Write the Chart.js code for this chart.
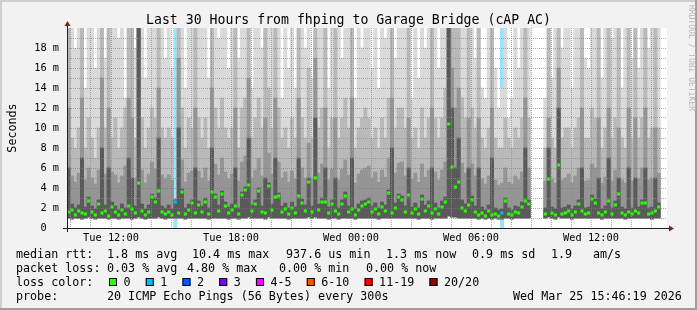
<!DOCTYPE html>
<html>
<head>
<meta charset="utf-8">
<script src="https://cdn.jsdelivr.net/npm/chart.js@4.4.1/dist/chart.umd.min.js"></script>
<style>
  html, body { margin: 0; padding: 0; background: #f2f2f2; }
  canvas { display: block; }
</style>
</head>
<body>
<canvas id="grafico" width="697" height="310" style="width:697px;height:310px"></canvas>
<script>
'use strict';

/* ---- time axis: hours counted from Tue 00:00, one sample every 10 minutes ---- */
const startHour = 9.8;
const endHour = 39.8;
const stepHour = 1 / 6;

/* ---- smoke + median, milliseconds (null = no data) ---- */
const medianMs = [
  1.6,1.8,1.3,1.7,1.5,1.4,2.7,1.6,1.3,2.4,
  1.5,1.7,1.2,2.1,1.6,1.3,1.8,1.4,2.2,1.9,
  1.5,4.5,1.7,1.3,1.6,3.1,2.6,3.7,1.6,1.4,
  1.6,1.3,2.6,1.5,3.6,1.4,1.8,2.5,1.5,2.3,
  1.6,2.6,1.4,3.6,3.1,1.7,3.4,2.2,1.5,1.8,
  2.2,1.4,3.3,3.8,4.3,1.7,2.4,3.7,1.6,1.5,
  4.2,1.8,3.1,3.2,1.6,1.9,1.4,2.0,1.5,3.2,
  2.5,1.7,4.6,1.6,5.0,1.8,2.6,2.6,1.5,2.4,
  1.7,1.4,2.4,3.2,1.6,1.9,1.3,1.8,2.2,2.4,
  2.6,1.6,1.9,1.4,2.1,1.7,3.5,1.5,2.0,3.1,
  2.8,1.6,3.3,1.5,1.9,1.4,2.9,1.7,2.2,1.5,
  1.9,1.4,2.1,2.6,10.4,6.1,4.1,4.6,2.0,1.7,
  2.3,2.8,1.6,1.3,1.5,1.2,1.7,1.3,1.4,1.2,
  1.5,2.7,1.4,1.3,1.6,1.5,2.1,2.7,2.4,null,
  null,null,null,1.4,4.9,1.5,1.3,6.3,1.4,1.5,
  1.7,1.3,1.6,2.4,1.7,1.4,1.5,2.9,2.5,1.5,
  1.3,1.6,2.7,1.4,2.3,3.4,1.5,1.3,1.6,1.4,
  1.7,1.5,2.5,2.5,1.4,1.5,1.7,2.1
];
const minMs = [
  1.0,0.9,1.0,1.0,0.9,1.0,1.1,1.0,0.9,1.0,
  1.0,1.0,0.9,1.0,1.0,0.9,1.0,1.0,1.0,0.9,
  1.0,1.1,1.0,0.9,1.0,1.0,1.0,1.1,1.0,0.9,
  1.0,1.0,1.0,1.0,1.0,0.9,1.0,1.0,1.0,1.0,
  1.0,1.0,0.9,1.0,1.0,1.0,1.0,1.0,0.9,1.0,
  1.0,0.9,1.0,1.0,1.1,1.0,1.0,1.0,1.0,0.9,
  1.1,1.0,1.0,1.0,1.0,1.0,0.9,1.0,1.0,1.0,
  1.0,1.0,1.1,1.0,1.1,1.0,1.0,1.0,0.9,1.0,
  1.0,0.9,1.0,1.0,1.0,1.0,0.9,1.0,1.0,1.0,
  1.0,1.0,1.0,0.9,1.0,1.0,1.0,1.0,1.0,1.0,
  1.0,1.0,1.0,1.0,1.0,0.9,1.0,1.0,1.0,0.9,
  1.0,1.0,1.0,1.0,1.2,1.1,1.1,1.0,1.0,1.0,
  1.0,1.0,1.0,0.9,1.0,0.9,1.0,0.9,1.0,0.9,
  0.9,1.0,1.0,0.9,1.0,1.0,1.0,1.0,1.0,null,
  null,null,null,1.0,1.1,1.0,0.9,1.1,1.0,1.0,
  1.0,0.9,1.0,1.0,1.0,1.0,1.0,1.0,1.0,1.0,
  0.9,1.0,1.0,1.0,1.0,1.0,1.0,0.9,1.0,1.0,
  1.0,1.0,1.0,1.0,1.0,0.9,1.0,1.0
];
// darkest part of the smoke
const coreMs = [
  6,2.4,2.0,2.3,7,2.1,3.1,2.2,1.9,2.8,
  8,2.3,6,2.6,2.2,1.8,2.4,2.0,7,5,
  2.2,20,2.4,1.9,2.3,3.4,3.0,9,2.2,2.0,
  2.3,1.9,2.8,10,3.9,2.0,2.4,2.8,6,2.7,
  2.2,3.0,2.0,8,3.4,2.3,3.7,2.6,2.1,2.4,
  6,2.0,3.6,4.1,9,2.3,2.8,4.0,2.2,5,
  4.5,2.4,7,3.5,2.2,2.5,2.0,2.6,2.1,7,
  2.9,2.3,5.0,2.2,11,2.4,3.0,6,2.1,2.8,
  5,2.0,2.8,3.6,2.2,7,1.9,2.4,2.7,2.8,
  3.0,2.2,2.5,2.0,2.6,2.3,3.8,8,2.5,3.4,
  3.2,2.2,6,2.1,2.5,2.0,3.3,2.3,2.7,6,
  2.5,2.0,2.7,3.1,20,12,6,9,2.8,2.4,
  6,3.2,2.2,6,2.1,1.8,2.3,7,2.0,1.8,
  1.9,3.0,2.0,1.8,2.2,2.1,2.6,8,2.8,null,
  null,null,null,2.0,8,2.1,1.9,12,2.0,2.1,
  2.3,1.9,2.2,2.8,6,2.0,2.1,3.3,2.9,5,
  1.9,2.2,7,2.0,2.7,5,2.1,1.9,6,2.0,
  5,2.1,2.8,6,2.0,2.1,5,2.5
];
const p75Ms = [
  12,5.2,4.6,5.5,13,4.8,6.0,5.0,4.4,5.8,
  15,5.4,12,5.6,5.3,4.5,5.2,6.2,13,11,
  5.0,20,5.8,4.5,5.4,6.6,5.9,14,5.3,4.9,
  5.3,4.8,2.9,17,6.8,4.6,5.5,5.7,12,5.7,
  5.0,6.0,4.7,14,6.4,5.3,7.0,5.6,4.9,5.4,
  12,4.7,6.6,7.2,15,5.0,5.8,7.0,5.2,11,
  7.5,5.4,13,6.6,5.0,5.6,4.6,5.7,4.9,13,
  6.0,5.0,8.5,5.0,17,5.5,6.4,12,4.8,5.9,
  11,4.8,5.9,6.8,5.3,13,4.5,5.4,5.8,6.0,
  6.2,5.0,5.6,4.6,5.8,5.1,7.0,13,5.5,6.5,
  6.6,5.2,11,4.9,5.5,4.6,6.4,5.1,5.8,12,
  5.6,4.8,5.8,6.6,20,16,12,14,6.5,5.5,
  11,6.4,5.2,11,4.9,4.4,5.2,12,4.8,4.3,
  4.5,6.0,4.6,4.4,5.2,4.8,5.6,13,6.0,null,
  null,null,null,4.7,11,4.9,4.5,16,4.8,5.0,
  5.4,4.5,5.2,6.0,12,4.7,4.8,6.4,6.0,11,
  4.5,5.1,12,4.7,5.8,10,4.8,4.5,12,4.7,
  11,4.9,6.0,12,4.8,5.0,10,5.5
];
const p90Ms = [
  25,9,8,10,25,8,11,9,7,10,
  25,10,25,9,11,8,10,12,25,25,
  9,25,11,8,10,12,11,25,10,9,
  10,9,3.0,25,12,8,11,10,25,11,
  9,11,8,25,12,10,13,10,9,10,
  25,8,12,13,25,9,11,13,10,25,
  14,10,25,12,9,10,8,11,9,25,
  11,9,16,9,25,10,12,25,8,11,
  25,9,11,13,10,25,8,10,11,12,
  11,9,10,8,11,9,13,25,10,12,
  12,10,25,9,10,8,12,9,11,25,
  11,9,11,14,25,25,25,25,13,11,
  25,12,10,25,9,8,10,25,9,8,
  8,11,9,8,10,9,11,25,11,null,
  null,null,null,8,25,9,8,25,9,10,
  10,8,10,11,25,9,9,12,11,25,
  8,10,25,9,11,25,9,8,25,9,
  25,9,11,25,9,10,25,10
];
const maxMs = [
  25,25,18,25,25,14,25,25,16,25,
  25,17,25,25,25,19,25,13,25,25,
  18,25,25,15,25,25,21,25,25,17,
  25,16,3.2,25,25,14,25,20,25,25,
  25,25,15,25,25,19,25,25,16,25,
  25,17,25,25,25,14,25,25,18,25,
  25,21,25,25,13,25,16,25,14,25,
  25,18,25,15,25,25,25,25,14,25,
  25,25,17,25,25,25,13,25,18,25,
  25,16,25,14,25,19,25,25,17,25,
  25,25,25,13,25,15,25,18,25,25,
  25,16,25,25,25,25,25,25,25,20,
  25,25,17,25,14,13,25,25,16,12,
  14,25,11,13,25,16,25,25,20,null,
  null,null,null,13,25,15,25,25,18,25,
  25,14,25,25,25,17,16,25,25,25,
  15,25,25,19,25,25,14,25,25,17,
  25,16,25,25,18,25,25,20
];

/* ---- packet loss (sample index, pings lost of 20) ---- */
const lossStep = [32, 130];
const lossCount = [1, 1];
const lossLabels = ['0', '1', '2', '3', '4-5', '6-10', '11-19', '20/20'];
const lossColors = ['#26ff00', '#00b8ff', '#0059ff', '#7e00ff', '#ff00ff', '#ff5500', '#ff0000', '#a10000'];

/* ---- axis labels ---- */
const xLabelHours = [12, 18, 24, 30, 36];
const xLabels = ['Tue 12:00', 'Tue 18:00', 'Wed 00:00', 'Wed 06:00', 'Wed 12:00'];
const yLabelValues = [0, 2, 4, 6, 8, 10, 12, 14, 16, 18];
const yLabels = ['0  ', '2 m', '4 m', '6 m', '8 m', '10 m', '12 m', '14 m', '16 m', '18 m'];

/* ---- legend text ---- */
const titleText = 'Last 30 Hours from fhping to Garage Bridge (cAP AC)';
const rttTexts = ['median rtt:', '1.8 ms avg', '10.4 ms max', '937.6 us min', '1.3 ms now', '0.9 ms sd', '1.9', 'am/s'];
const lossTexts = ['packet loss:', '0.03 % avg', '4.80 % max', '0.00 % min', '0.00 % now'];
const probeTexts = ['probe:', '20 ICMP Echo Pings (56 Bytes) every 300s', 'Wed Mar 25 15:46:19 2026'];

// layout of the legend pieces (pixels)
const rttCols = [16, 107, 192, 286, 386, 472, 551, 593];
const lossCols = [16, 107, 187, 279, 366];
const probeCols = [16, 107, 513];

const FONT = '"DejaVu Sans Mono", monospace';
const GRID = 'rgba(143,143,143,0.75)';
const MGRID = 'rgba(222,79,74,0.6)';

function lossBucket(n) {
  if (n === 0) return 0;
  if (n <= 3) return n;
  if (n <= 5) return 4;
  if (n <= 10) return 5;
  if (n <= 19) return 6;
  return 7;
}
function lossAt(i) {
  const k = lossStep.indexOf(i);
  return k < 0 ? 0 : lossCount[k];
}

const stepTimes = medianMs.map((_, i) => startHour + (i + 0.5) * stepHour);
const band = top => stepTimes.map((t, i) => ({ x: t, y: minMs[i] == null ? null : [minMs[i], top[i]] }));

// ── frame, axes and texts ──────────────────────────────────────
const rrdFrame = {
  id: 'rrdFrame',
  beforeDraw(chart) {
    const { ctx, chartArea: a, width, height } = chart;
    ctx.save();
    ctx.fillStyle = '#f2f2f2';
    ctx.fillRect(0, 0, width, height);
    ctx.fillStyle = '#cfcfcf';
    ctx.fillRect(0, 0, width, 2);
    ctx.fillRect(0, 0, 2, height);
    ctx.fillStyle = '#9e9e9e';
    ctx.fillRect(0, height - 2, width, 2);
    ctx.fillRect(width - 2, 0, 2, height);
    ctx.fillStyle = '#ffffff';
    ctx.fillRect(a.left, a.top, a.right - a.left, a.bottom - a.top);
    ctx.restore();
  },
  afterDraw(chart) {
    const ctx = chart.ctx;
    const xs = chart.scales.x, ys = chart.scales.y;
    const x0 = Math.round(xs.left), x1 = Math.round(xs.right);
    const y0 = Math.round(ys.bottom), y1 = Math.round(ys.top);
    ctx.save();

    // axes
    ctx.strokeStyle = '#1f1f1f';
    ctx.lineWidth = 1;
    ctx.beginPath();
    ctx.moveTo(x0 - 4, y0 + 0.5); ctx.lineTo(x1 + 4, y0 + 0.5);
    ctx.moveTo(x0 + 0.5, y0 + 4); ctx.lineTo(x0 + 0.5, y1 - 4);
    ctx.stroke();
    ctx.fillStyle = '#801f1f';
    ctx.beginPath();
    ctx.moveTo(x1 + 2, y0 - 3 + 0.5); ctx.lineTo(x1 + 2, y0 + 3 + 0.5); ctx.lineTo(x1 + 7, y0 + 0.5);
    ctx.closePath(); ctx.fill();
    ctx.beginPath();
    ctx.moveTo(x0 - 3 + 0.5, y1 - 2); ctx.lineTo(x0 + 3 + 0.5, y1 - 2); ctx.lineTo(x0 + 0.5, y1 - 7);
    ctx.closePath(); ctx.fill();

    ctx.fillStyle = '#000';
    ctx.textBaseline = 'alphabetic';

    // title
    ctx.font = '13.2px ' + FONT;
    ctx.textAlign = 'center';
    ctx.fillText(titleText, chart.width / 2, 24);

    // unit
    ctx.font = '11.7px ' + FONT;
    ctx.save();
    ctx.translate(15.5, (y0 + y1) / 2);
    ctx.rotate(-Math.PI / 2);
    ctx.fillText('Seconds', 0, 0);
    ctx.restore();

    // legend rows
    ctx.textAlign = 'left';
    rttTexts.forEach((t, k) => ctx.fillText(t, rttCols[k], 258));
    lossTexts.forEach((t, k) => ctx.fillText(t, lossCols[k], 272));
    ctx.fillText('loss color:', 16, 286);
    let bx = 109;
    lossLabels.forEach((lab, k) => {
      ctx.fillStyle = lossColors[k];
      ctx.fillRect(bx, 278, 8, 8);
      ctx.strokeStyle = '#000';
      ctx.strokeRect(bx + 0.5, 278.5, 7, 7);
      ctx.fillStyle = '#000';
      ctx.fillText(lab, bx + 14.5, 286);
      bx += 14.6 + ctx.measureText(lab).width + 15.1;
    });
    probeTexts.forEach((t, k) => ctx.fillText(t, probeCols[k], 300));

    // watermark
    ctx.font = '8px ' + FONT;
    ctx.fillStyle = '#b4b4b4';
    ctx.translate(688.5, 5);
    ctx.rotate(Math.PI / 2);
    ctx.fillText('RRDTOOL / TOBI OETIKER', 0, 0);
    ctx.restore();
  }
};

const barBase = {
  type: 'bar',
  barPercentage: 1,
  categoryPercentage: 1,
  grouped: false,
  borderWidth: 0
};

new Chart(document.getElementById('grafico').getContext('2d'), {
  type: 'bar',
  data: {
    datasets: [
      {
        type: 'scatter',
        data: stepTimes.map((t, i) => ({ x: t, y: medianMs[i] })),
        pointStyle: 'rect',
        pointRadius: 2.2,
        pointBorderWidth: 0,
        pointBackgroundColor: c => lossColors[lossBucket(lossAt(c.dataIndex))],
        order: 0
      },
      Object.assign({ data: band(coreMs), backgroundColor: '#5a5a5a', order: 1 }, barBase),
      Object.assign({ data: band(p75Ms), backgroundColor: '#959595', order: 2 }, barBase),
      Object.assign({ data: band(p90Ms), backgroundColor: '#b9b9b9', order: 3 }, barBase),
      Object.assign({ data: band(maxMs), backgroundColor: '#dadada', order: 4 }, barBase),
      Object.assign({
        data: lossStep.map(i => ({ x: stepTimes[i], y: [0, 20] })),
        backgroundColor: lossCount.map(n => lossColors[lossBucket(n)] + '66'),
        order: 5
      }, barBase)
    ]
  },
  options: {
    responsive: false,
    devicePixelRatio: 1,
    animation: false,
    events: [],
    layout: { padding: { left: 0, right: 30, top: 28, bottom: 62 } },
    plugins: { legend: { display: false }, tooltip: { enabled: false }, title: { display: false } },
    scales: {
      x: {
        type: 'linear',
        min: startHour,
        max: endHour,
        offset: false,
        afterFit: s => { s.height = 20; },
        afterBuildTicks: s => {
          s.ticks = [];
          for (let h = Math.ceil(startHour); h <= endHour; h++) s.ticks.push({ value: h });
        },
        grid: {
          z: 1,
          offset: false,
          drawTicks: false,
          color: c => (c.tick.value % 3 === 0 ? MGRID : GRID)
        },
        border: { display: false, dash: [1, 1] },
        ticks: {
          autoSkip: false,
          maxRotation: 0,
          minRotation: 0,
          padding: 4,
          color: '#000',
          font: { family: FONT, size: 10.3 },
          callback: v => {
            const k = xLabelHours.indexOf(v);
            return k < 0 ? '' : xLabels[k];
          }
        }
      },
      y: {
        min: 0,
        max: 20,
        afterFit: s => { s.width = 67; },
        afterBuildTicks: s => {
          s.ticks = [];
          for (let v = 0; v < 20; v++) s.ticks.push({ value: v });
        },
        grid: {
          z: 1,
          drawTicks: false,
          color: c => (c.tick.value === 0 ? 'rgba(0,0,0,0)' : c.tick.value % 2 === 0 ? MGRID : GRID)
        },
        border: { display: false, dash: [1, 1] },
        ticks: {
          autoSkip: false,
          padding: 8,
          color: '#000',
          font: { family: FONT, size: 10.3 },
          callback: v => {
            const k = yLabelValues.indexOf(v);
            return k < 0 ? '' : yLabels[k];
          }
        }
      }
    }
  },
  plugins: [rrdFrame]
});
</script>
</body>
</html>
